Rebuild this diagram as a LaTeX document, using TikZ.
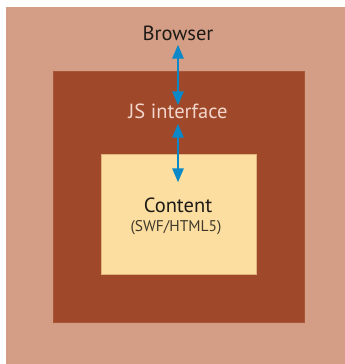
\documentclass[tikz,border=0pt]{standalone}
\usepackage{fontspec}
\setmainfont{PT Sans}
\usetikzlibrary{arrows.meta}
\definecolor{outerc}{HTML}{D49E86}
\definecolor{innerc}{HTML}{A0482A}
\definecolor{contc}{HTML}{FCDFA0}
\definecolor{arrc}{HTML}{0A88C8}
\definecolor{jstext}{HTML}{F2D6CC}
\definecolor{darktext}{HTML}{1E1A16}
\tikzset{
  boxarea/.style={draw=none, inner sep=0pt, outer sep=0pt},
  lbl/.style={inner sep=0pt, font=\fontsize{20.5}{24}\selectfont},
  biarrow/.style={arrc, line width=2.6pt, {Triangle[width=11pt,length=14pt]}-{Triangle[width=11pt,length=14pt]}}
}
\begin{document}
\begin{tikzpicture}[x=1pt,y=-1pt]
\useasboundingbox (0,0) rectangle (345,364);
\fill[white] (0,0) rectangle (345,364);
\node[boxarea, fill=outerc, minimum width=339pt, minimum height=357pt, anchor=north west] (outer) at (6,7) {};
\node[boxarea, fill=innerc, draw=innerc!85!outerc, line width=0.5pt, minimum width=251pt, minimum height=251pt, anchor=north west] (inner) at (53,71) {};
\node[boxarea, fill=contc, draw=contc!70!innerc, line width=0.5pt, minimum width=155pt, minimum height=120pt, anchor=north west] (content) at (101,154) {};
\node[lbl, text=darktext] (browser) at (178,33) {Browser};
\node[lbl, text=jstext] (js) at (178,111) {JS interface};
\node[lbl, text=darktext] (cont) at (178,205) {Content};
\node[inner sep=0pt, text=darktext!85!contc, font=\fontsize{15.5}{18}\selectfont] (swf) at (176,228) {(SWF/HTML5)};
\draw[biarrow] ([yshift=-4pt]browser.south) -- ([yshift=-2pt]js.north);
\draw[biarrow] ([yshift=-5pt]js.south) -- ([yshift=15pt]cont.north);
\end{tikzpicture}
\end{document}
